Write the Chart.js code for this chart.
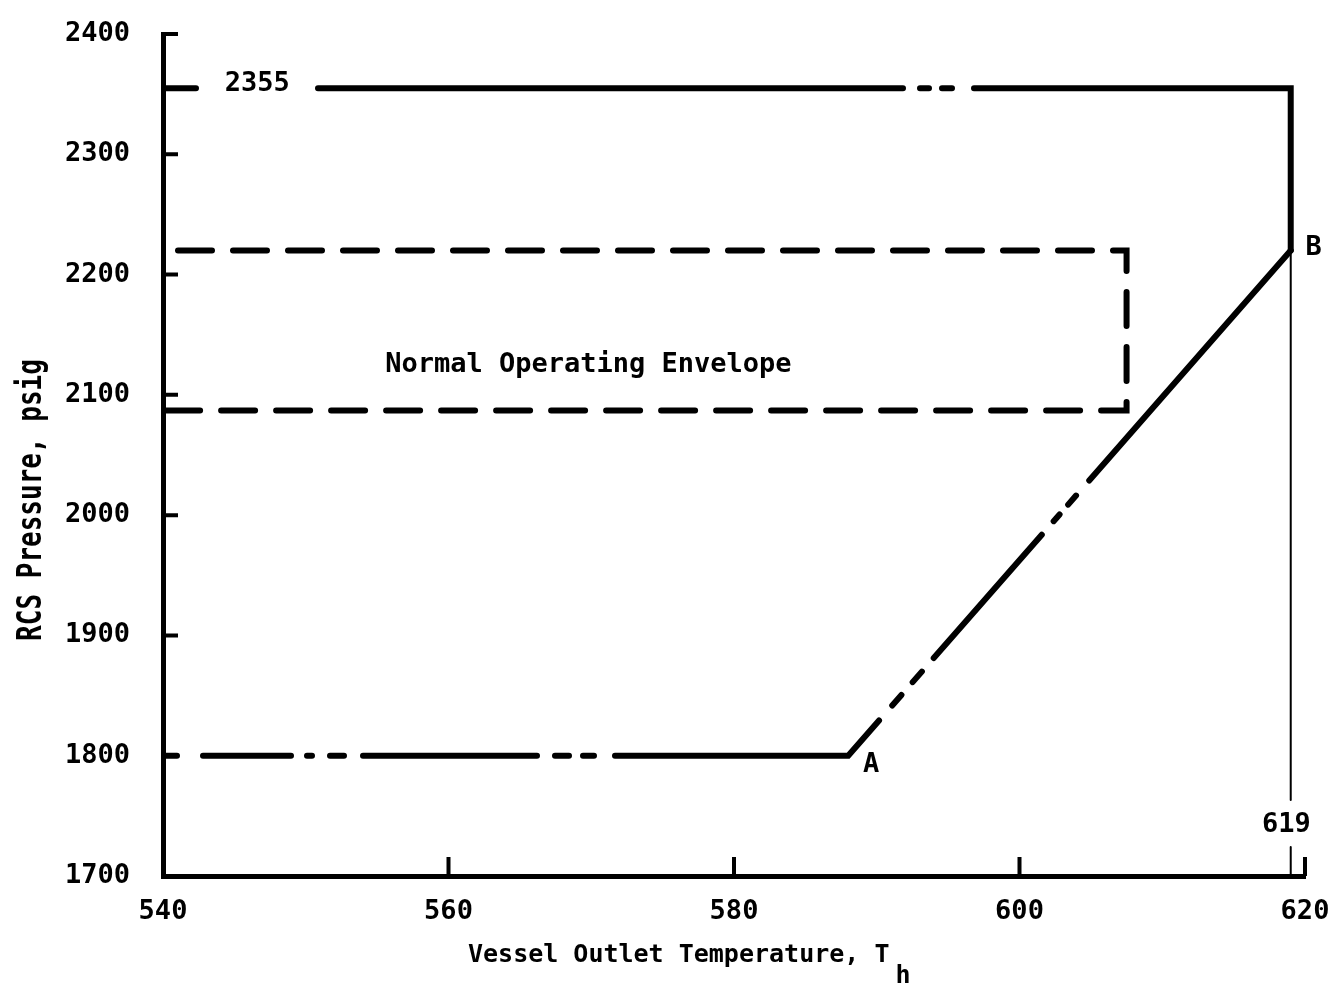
<!DOCTYPE html>
<html>
<head>
<meta charset="utf-8">
<title>RCS Pressure vs Vessel Outlet Temperature</title>
<script src="https://cdn.jsdelivr.net/npm/chart.js@4.4.1/dist/chart.umd.min.js"></script>
<style>
  html, body { margin: 0; padding: 0; background: #fff; }
</style>
</head>
<body>
<canvas id="chart" width="1341" height="985"></canvas>
<script>
// values (temperature in F, pressure in psig)
const highTemps = [540, 619, 619];
const highPress = [2355, 2355, 2220];

const limitTemps = [540, 588, 619];
const limitPress = [1800, 1800, 2220];

const envTemps = [540, 607.5, 607.5, 540];
const envPress = [2220, 2220, 2087, 2087];

const markTemps = [619, 619];
const markPress = [1700, 2220];

const xTicks = [540, 560, 580, 600, 620];
const yTicks = [1700, 1800, 1900, 2000, 2100, 2200, 2300, 2400];

const noteText = ['2355', 'A', 'B', 'Normal Operating Envelope', '619'];
const noteTemp = [546.6, 589.6, 620.6, 569.8, 618.7];
const notePress = [2361, 1795, 2225, 2127, 1745];

const MONO = '"DejaVu Sans Mono", "Liberation Mono", monospace';

const pts = (xs, ys) => xs.map((v, i) => ({x: v, y: ys[i]}));

// short tick marks drawn inside the plot, as on the original
const innerTicks = {
  id: 'innerTicks',
  afterDraw(chart) {
    const {ctx, chartArea, scales: {x, y}} = chart;
    ctx.save();
    ctx.strokeStyle = '#000';
    ctx.lineWidth = 4;
    ctx.beginPath();
    xTicks.slice(1).forEach(v => {
      const px = x.getPixelForValue(v);
      ctx.moveTo(px, chartArea.bottom);
      ctx.lineTo(px, chartArea.bottom - 19);
    });
    yTicks.slice(1).forEach(v => {
      const py = y.getPixelForValue(v);
      ctx.moveTo(chartArea.left, py);
      ctx.lineTo(chartArea.left + 15, py);
    });
    ctx.stroke();
    ctx.restore();
  }
};

// point labels and axis titles
const notes = {
  id: 'notes',
  afterDatasetsDraw(chart) {
    const {ctx, chartArea, scales: {x, y}} = chart;
    ctx.save();
    ctx.fillStyle = '#000';
    ctx.font = 'bold 27px ' + MONO;
    ctx.textAlign = 'center';
    ctx.textBaseline = 'alphabetic';
    noteText.forEach((t, i) => {
      ctx.fillText(t, x.getPixelForValue(noteTemp[i]), y.getPixelForValue(notePress[i]) + 10);
    });

    // x title with subscript h
    ctx.font = 'bold 25px ' + MONO;
    ctx.textAlign = 'left';
    const xt = 'Vessel Outlet Temperature, T';
    const tx = chartArea.left + 305;
    ctx.fillText(xt, tx, chartArea.bottom + 86);
    const w = ctx.measureText(xt).width;
    ctx.fillText('h', tx + w + 6, chartArea.bottom + 107);

    // y title, tall lettering
    ctx.font = 'bold 26px ' + MONO;
    ctx.textAlign = 'center';
    ctx.translate(41, (chartArea.top + chartArea.bottom) / 2 + 45);
    ctx.rotate(-Math.PI / 2);
    ctx.scale(1, 1.3);
    ctx.fillText('RCS Pressure, psig', 0, 0);
    ctx.restore();
  }
};

const lineBase = {
  showLine: true,
  pointRadius: 0,
  borderColor: '#000',
  fill: false,
  tension: 0,
  borderCapStyle: 'round',
  borderJoinStyle: 'miter'
};

new Chart(document.getElementById('chart'), {
  type: 'scatter',
  data: {
    datasets: [
      Object.assign({}, lineBase, {
        label: 'Upper limit',
        data: pts(highTemps, highPress),
        borderWidth: 6,
        borderDash: [33, 122, 585, 17, 9, 13, 10, 22, 1000, 0]
      }),
      Object.assign({}, lineBase, {
        label: 'Lower limit',
        data: pts(limitTemps, limitPress),
        borderWidth: 6,
        borderDash: [14, 26, 88, 16, 5, 18, 14, 19, 174, 18, 14, 14, 11, 21, 280,
                     20, 14, 17, 14, 18, 164, 18, 9, 13, 12, 20, 1000, 0]
      }),
      Object.assign({}, lineBase, {
        label: 'Normal Operating Envelope',
        data: pts(envTemps, envPress),
        borderWidth: 6,
        borderDash: [34, 21],
        borderDashOffset: 40
      }),
      Object.assign({}, lineBase, {
        label: '619',
        data: pts(markTemps, markPress),
        borderWidth: 2,
        borderDash: [29, 47, 1000, 0]
      })
    ]
  },
  options: {
    responsive: false,
    animation: false,
    layout: { padding: { top: 34, right: 36, bottom: 0, left: 0 } },
    plugins: {
      legend: { display: false },
      tooltip: { enabled: false }
    },
    scales: {
      x: {
        type: 'linear',
        min: 540,
        max: 620,
        afterBuildTicks: s => { s.ticks = xTicks.map(v => ({value: v})); },
        afterFit: s => { s.height = 109; s.paddingLeft = 0; s.paddingRight = 0; },
        grid: { drawOnChartArea: false, drawTicks: false },
        border: { display: true, color: '#000', width: 5 },
        ticks: {
          color: '#000',
          padding: 20,
          maxRotation: 0,
          font: { family: MONO, size: 27, weight: 'bold' },
          callback: v => String(v)
        }
      },
      y: {
        type: 'linear',
        min: 1700,
        max: 2400,
        afterBuildTicks: s => { s.ticks = yTicks.map(v => ({value: v})); },
        afterFit: s => { s.width = 163; s.paddingTop = 0; s.paddingBottom = 0; },
        grid: { drawOnChartArea: false, drawTicks: false },
        border: { display: true, color: '#000', width: 5 },
        ticks: {
          color: '#000',
          padding: 33,
          font: { family: MONO, size: 27, weight: 'bold' },
          callback: v => String(v)
        }
      }
    }
  },
  plugins: [innerTicks, notes]
});
</script>
</body>
</html>
